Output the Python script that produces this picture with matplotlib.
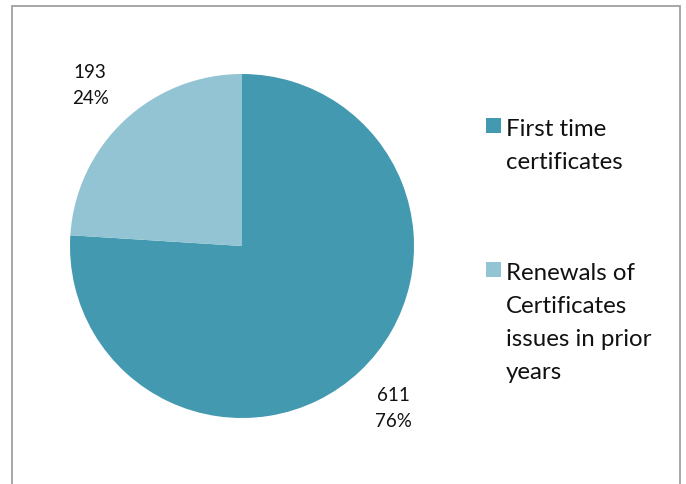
import matplotlib
matplotlib.use("Agg")
import matplotlib.pyplot as plt
from matplotlib.patches import Rectangle

# --- data -----------------------------------------------------------------
labels = ["First time\ncertificates",
          "Renewals of\nCertificates\nissues in prior\nyears"]
counts = [611, 193]
colors = ["#4399B0", "#93C4D4"]

W, H = 686, 485
plt.rcParams["font.family"] = ["Lato", "DejaVu Sans"]

fig = plt.figure(figsize=(W / 100, H / 100), dpi=100)
ax = fig.add_axes([0, 0, 1, 1])

total = sum(counts)


def fmt(pct):
    val = int(round(pct * total / 100.0))
    return f"{val}\n{pct:.0f}%"


wedges, _, autotexts = ax.pie(
    counts, colors=colors, startangle=90, counterclock=False,
    center=(242, H - 247), radius=172, autopct=fmt, pctdistance=1.29,
    textprops=dict(fontsize=13.5, color="#111111", linespacing=1.62),
    wedgeprops=dict(linewidth=0))

ax.set_xlim(0, W)
ax.set_ylim(0, H)
ax.set_aspect("equal")
ax.axis("off")

# outer chart border (bottom edge runs past the image)
ax.add_patch(Rectangle((11.5, -20), 668, H - 7 + 20, fill=False,
                       edgecolor="#a0a0a0", linewidth=1.3, clip_on=False))

# legend, drawn by hand so the swatch lines up with the first text line
entry_top = [118, 262]
for lab, col, y0 in zip(labels, colors, entry_top):
    ax.add_patch(Rectangle((486, H - y0 - 16), 15, 15, facecolor=col,
                           edgecolor="none"))
    ax.text(506, H - y0 - 1, lab, fontsize=17.3, color="#111111",
            va="top", ha="left", linespacing=1.7)

fig.savefig("out.png", dpi=100)
